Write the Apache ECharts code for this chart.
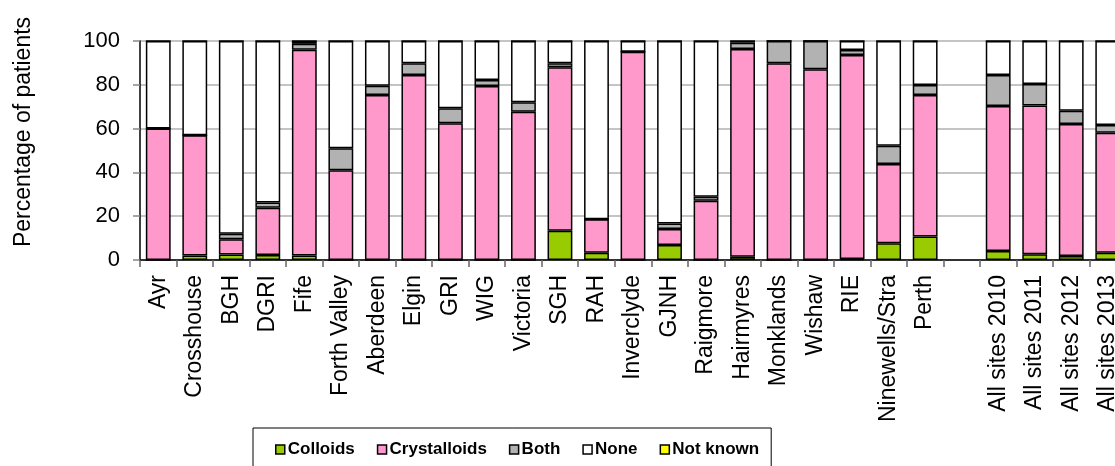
<!DOCTYPE html>
<html>
<head>
<meta charset="utf-8">
<script src="https://cdn.jsdelivr.net/npm/echarts@6/dist/echarts.min.js"></script>
<style>
html,body{margin:0;padding:0;background:#fff;}
#chart{width:1115px;height:466px;}
</style>
</head>
<body>
<div id="chart"></div>
<script>
var categories = ['Ayr','Crosshouse','BGH','DGRI','Fife','Forth Valley','Aberdeen','Elgin','GRI','WIG','Victoria','SGH','RAH','Inverclyde','GJNH','Raigmore','Hairmyres','Monklands','Wishaw','RIE','Ninewells/Stra','Perth','','All sites 2010','All sites 2011','All sites 2012','All sites 2013'];
var colloids     = [0, 2, 2.5, 2.3, 2, 0, 0, 0, 0, 0, 0, 13.4, 3.3, 0, 6.8, 0, 1.5, 0, 0, 0.5, 7.6, 10.7, null, 4.1, 2.6, 1.8, 3.3];
var crystalloids = [60, 55, 7, 21.6, 94, 41, 75.3, 84.5, 62.4, 79.5, 67.7, 74.6, 15.3, 95.1, 7.4, 27.1, 94.8, 89.8, 87.1, 93.1, 36.2, 64.6, null, 66.2, 67.9, 60.3, 54.8];
var both         = [0, 0, 2.5, 2.3, 2.7, 10, 4.3, 5.3, 6.9, 2.7, 4.3, 1.8, 0, 0, 2.5, 1.8, 2.9, 10.2, 12.9, 2.3, 8.4, 4.6, null, 14.2, 9.9, 6.1, 3.5];
var none         = [40, 43, 88, 73.8, 1.3, 49, 20.4, 10.2, 30.7, 17.8, 28, 10.2, 81.4, 4.9, 83.3, 71.1, 0.8, 0, 0, 4.1, 47.8, 20.1, null, 15.5, 19.6, 31.8, 38.4];
var notKnown     = [0, 0, 0, 0, 0, 0, 0, 0, 0, 0, 0, 0, 0, 0, 0, 0, 0, 0, 0, 0, 0, 0, null, 0, 0, 0, 0];
var yTicks = [0, 20, 40, 60, 80, 100];

var FONT = '"Liberation Sans", Arial, sans-serif';
function mk(name, data, color) {
  return {
    name: name, type: 'bar', stack: 'total', data: data, barWidth: '68%',
    itemStyle: { color: color, borderColor: '#000', borderWidth: 1.5 },
    emphasis: { disabled: true }
  };
}
var chart = echarts.init(document.getElementById('chart'), null, { renderer: 'canvas' });
chart.setOption({
  animation: false,
  backgroundColor: '#fff',
  grid: { left: 140, top: 41, height: 219, width: 986, containLabel: false, outerBoundsMode: 'none' },
  xAxis: {
    type: 'category', data: categories, boundaryGap: true,
    axisLine: { show: true, lineStyle: { color: '#000', width: 1.5 } },
    axisTick: { show: true, alignWithLabel: false, interval: 0, length: 7, lineStyle: { color: '#666', width: 1.5 } },
    axisLabel: { rotate: 90, interval: 0, margin: 15, fontSize: 23, fontFamily: FONT, color: '#000' }
  },
  yAxis: {
    type: 'value', min: yTicks[0], max: yTicks[yTicks.length - 1], interval: 20,
    axisLine: { show: true, lineStyle: { color: '#000', width: 1.5 } },
    axisTick: { show: true, length: 7, lineStyle: { color: '#888', width: 1.5 } },
    axisLabel: { margin: 20, fontSize: 22, fontFamily: FONT, color: '#000' },
    splitLine: { show: true, lineStyle: { color: '#c4c4c4', width: 2 } }
  },
  legend: {
    left: 253, top: 428,
    padding: [13, 12, 13, 22],
    itemGap: 22, itemWidth: 9, itemHeight: 9,
    borderColor: '#000', borderWidth: 1,
    icon: 'rect',
    itemStyle: { borderColor: '#000', borderWidth: 1.5 },
    textStyle: { fontSize: 17, fontWeight: 'bold', fontFamily: FONT, color: '#000', padding: [0, 0, 0, -2] },
    data: ['Colloids', 'Crystalloids', 'Both', 'None', 'Not known']
  },
  graphic: [{
    type: 'text', x: 24, y: 132, rotation: Math.PI / 2,
    style: { text: 'Percentage of patients', fontSize: 23, fontFamily: FONT, fill: '#000', align: 'center', verticalAlign: 'middle' }
  }],
  series: [
    mk('Colloids', colloids, '#99CC00'),
    mk('Crystalloids', crystalloids, '#FF99CC'),
    mk('Both', both, '#B2B2B2'),
    mk('None', none, '#FFFFFF'),
    mk('Not known', notKnown, '#FFFF00')
  ]
});
</script>
</body>
</html>
